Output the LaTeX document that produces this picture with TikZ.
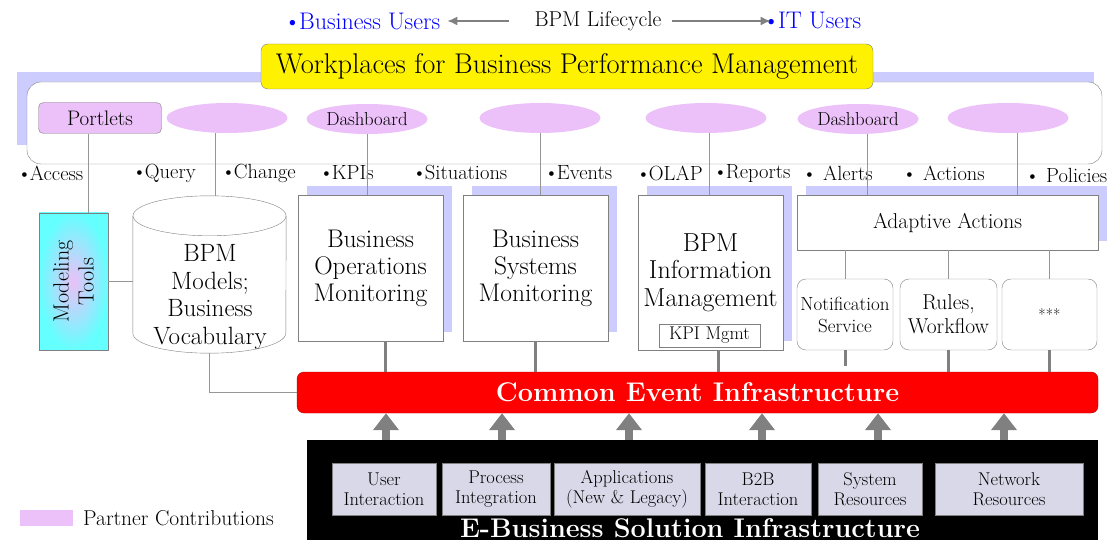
\documentclass[tikz,border=0pt]{standalone}
\usepackage{tikz}
\usetikzlibrary{shapes.geometric,arrows.meta,shadows}

\definecolor{partner}{RGB}{236,192,248}
\definecolor{shadeblue}{RGB}{204,204,255}
\definecolor{thingray}{RGB}{150,150,150}
\definecolor{midgray}{RGB}{128,128,128}
\definecolor{infragray}{RGB}{216,216,232}
\definecolor{mtcyan}{RGB}{100,255,255}

\newcommand{\fsz}[2]{\fontsize{#1}{#2}\selectfont}
\newcommand{\bul}{\textbullet\kern-2pt}

\tikzset{
  partell/.style={ellipse, fill=partner, minimum width=121pt, minimum height=30pt, inner sep=0pt, font=\fsz{18.8}{21}},
  bullab/.style={anchor=west, inner sep=0pt, font=\fsz{20.5}{23}},
  mainbox/.style={draw=midgray, fill=white, align=center, minimum width=145pt, minimum height=146pt, inner sep=0pt, font=\fsz{25.5}{27}, general shadow={fill=shadeblue, shadow xshift=9pt, shadow yshift=9pt}},
  subbox/.style={draw=midgray, fill=white, rounded corners=9pt, align=center, minimum height=71pt, inner sep=0pt},
  infrabox/.style={draw=midgray, fill=infragray, align=center, minimum height=52pt, inner sep=0pt, font=\fsz{18.5}{20}},
  conn/.style={draw=thingray, line width=1pt},
  feed/.style={draw=midgray, line width=3pt},
  uparrow/.style={draw=midgray, line width=8pt, -{Triangle[length=17pt,width=25pt]}},
  cyclearrow/.style={draw=midgray, line width=1.5pt, -{Latex[length=10pt,width=9pt]}}
}

\begin{document}
\begin{tikzpicture}[x=1pt, y=-1pt]
\useasboundingbox (0,0) rectangle (1117,540);

% users and lifecycle
\node[text=blue, font=\fsz{24}{26}, inner sep=0pt] (busers) at (362,21) {\bul Business Users};
\node[font=\fsz{21.5}{24}, inner sep=0pt] (lifecycle) at (598,21) {BPM Lifecycle};
\node[text=blue, font=\fsz{24}{26}, inner sep=0pt] (itusers) at (812,20) {\bul IT Users};
\draw[cyclearrow] ([xshift=-25pt]lifecycle.west) -- ([xshift=7pt]busers.east);
\draw[cyclearrow] ([xshift=10pt]lifecycle.east) -- ([xshift=8pt]lifecycle.east -| itusers.west);

% workplace frame
\fill[shadeblue] (17,72) rectangle (1094,145);
\draw[midgray, fill=white, rounded corners=14pt] (27,82) rectangle (1102,164);
\node[draw=midgray, fill=yellow, rounded corners=7pt, minimum width=612pt, minimum height=45pt, font=\fsz{28.5}{30}] (wptitle) at (567,66.5) {Workplaces for Business Performance Management};

% partner row
\node[draw=midgray, fill=partner, rounded corners=5pt, minimum width=123pt, minimum height=31pt, inner sep=0pt, font=\fsz{21}{23}] (portlets) at (100,118) {Portlets};
\node[partell] (ell1) at (227,118) {};
\node[partell] (dash1) at (367,119) {Dashboard};
\node[partell] (ell3) at (540,118) {};
\node[partell] (ell4) at (706,118) {};
\node[partell] (dash2) at (858,119) {Dashboard};
\node[partell] (ell6) at (1008,118) {};

% bullet labels
\node[bullab] (lacc) at (17,173) {\bul Access};
\node[bullab] (lqry) at (132,173) {\bul Query};
\node[bullab] (lchg) at (221,173) {\bul Change};
\node[bullab] (lkpi) at (319,173) {\bul KPIs};
\node[bullab] (lsit) at (412,173) {\bul Situations};
\node[bullab] (levt) at (544,173) {\bul Events};
\node[bullab] (lolap) at (636,173) {\bul OLAP};
\node[bullab] (lrep) at (713,173) {\bul Reports};
\node[bullab] (lalr) at (802,173) {\textbullet\ Alerts};
\node[bullab] (lact) at (902,173) {\textbullet\ Actions};
\node[bullab] (lpol) at (1025,175) {\textbullet\ Policies};

% modeling tools and models store
\node[draw=midgray, inner color=partner, outer color=mtcyan, minimum width=69pt, minimum height=137pt] (mt) at (73.5,281.5) {};
\node[rotate=90, align=center, font=\fsz{22}{25}] (mttext) at (mt) {Modeling\\Tools};
\node[minimum width=153pt, minimum height=157pt, inner sep=0pt] (cyl) at (209.5,274.5) {};
\draw[midgray, fill=white] ([yshift=-20pt]cyl.north west) -- ([yshift=20pt]cyl.south west)
  arc[start angle=180, end angle=360, x radius=76.5pt, y radius=20pt] -- ([yshift=-20pt]cyl.north east);
\draw[midgray] ([yshift=-20pt]cyl.north) ellipse [x radius=76.5pt, y radius=20pt];
\node[align=center, font=\fsz{25}{27.5}] (cyltext) at (210,297) {BPM\\Models;\\Business\\Vocabulary};

% monitoring boxes
\node[mainbox] (bom) at (370.5,268) {Business\\Operations\\Monitoring};
\node[mainbox] (bsm) at (535.5,268) {Business\\Systems\\Monitoring};
\node[mainbox, minimum height=155pt, font=\fsz{26}{27.5}] (bim) at (710.5,272.5) {BPM\\Information\\Management};
\node[draw=midgray, minimum width=101pt, minimum height=23pt, inner sep=0pt, font=\fsz{18.4}{20}] (kpi) at (709.5,335.5) {KPI Mgmt};
\node[mainbox, minimum width=301pt, minimum height=55pt, font=\fsz{21.5}{23}] (aa) at (947.5,222.5) {Adaptive Actions};
\node[subbox, minimum width=96pt, font=\fsz{19}{22}] (notif) at (845,314.5) {Notification\\Service};
\node[subbox, minimum width=97pt, font=\fsz{21.5}{24}] (rules) at (948.5,314.5) {Rules,\\Workflow};
\node[subbox, minimum width=95pt, font=\fsz{16}{18}] (more) at (1049.5,314.5) {***};

% event infrastructure
\node[draw=red!70!black, fill=red, rounded corners=7pt, minimum width=801pt, minimum height=41pt, text=white, font=\bfseries\fsz{27}{29}] (cei) at (697.5,392.5) {Common Event Infrastructure};
\node[fill=black, minimum width=791pt, minimum height=100pt, inner sep=0pt] (ebs) at (702.5,490) {};
\node[anchor=base, text=white, font=\bfseries\fsz{27}{29}] (ebstext) at (690,537) {E-Business Solution Infrastructure};
\node[infrabox, minimum width=104pt] (ui) at (384,489) {User\\Interaction};
\node[infrabox, minimum width=108pt] (pi) at (496,489) {Process\\Integration};
\node[infrabox, minimum width=146pt] (app) at (627,489) {Applications\\(New \& Legacy)};
\node[infrabox, minimum width=106pt] (b2b) at (758,489) {B2B\\Interaction};
\node[infrabox, minimum width=104pt] (sysres) at (870,489) {System\\Resources};
\node[infrabox, minimum width=148pt] (netres) at (1009,489) {Network\\Resources};

% legend
\node[fill=partner, minimum width=53pt, minimum height=16pt, inner sep=0pt] (legbox) at (46.5,518) {};
\node[anchor=west, inner sep=0pt, font=\fsz{21.5}{23}] (legtext) at (83,518) {Partner Contributions};

% connectors
\draw[conn] ([xshift=-12pt]portlets.south) -- ([xshift=-12pt]portlets.south |- mt.north);
\draw[conn] ([xshift=-12pt]ell1.south) -- ([xshift=-12pt]ell1.south |- cyl.north);
\draw[conn] (dash1.south) -- (dash1.south |- bom.north);
\draw[conn] (ell3.south) -- (ell3.south |- bsm.north);
\draw[conn] ([xshift=3pt]ell4.south) -- ([xshift=3pt]ell4.south |- bim.north);
\draw[conn] ([xshift=9pt]dash2.south) -- ([xshift=9pt]dash2.south |- aa.north);
\draw[conn] ([xshift=9pt]ell6.south) -- ([xshift=9pt]ell6.south |- aa.north);
\draw[conn] (mt.east) -- (mt.east -| cyl.west);
\draw[conn] (cyl.south) |- (cei.west);
\draw[conn] (notif.north |- aa.south) -- (notif.north);
\draw[conn] (rules.north |- aa.south) -- (rules.north);
\draw[conn] (more.north |- aa.south) -- (more.north);

\draw[feed] ([xshift=15pt]bom.south) -- ([xshift=15pt]bom.south |- cei.north);
\draw[feed] (bsm.south) -- (bsm.south |- cei.north);
\draw[feed] ([xshift=8pt]bim.south) -- ([xshift=8pt]bim.south |- cei.north);
\coordinate (notifend) at ([yshift=-16pt]notif.south);
\draw[feed] (notif.south) -- (notifend);
\draw[feed] (rules.south) -- (rules.south |- cei.north);
\draw[feed] (more.south) -- (more.south |- cei.north);

\foreach \ax [count=\i] in {386,502,629,762,878,1004} {
  \coordinate (ax\i) at (\ax,0);
  \draw[uparrow] (ebs.north -| ax\i) -- (cei.south -| ax\i);
}
\end{tikzpicture}
\end{document}
